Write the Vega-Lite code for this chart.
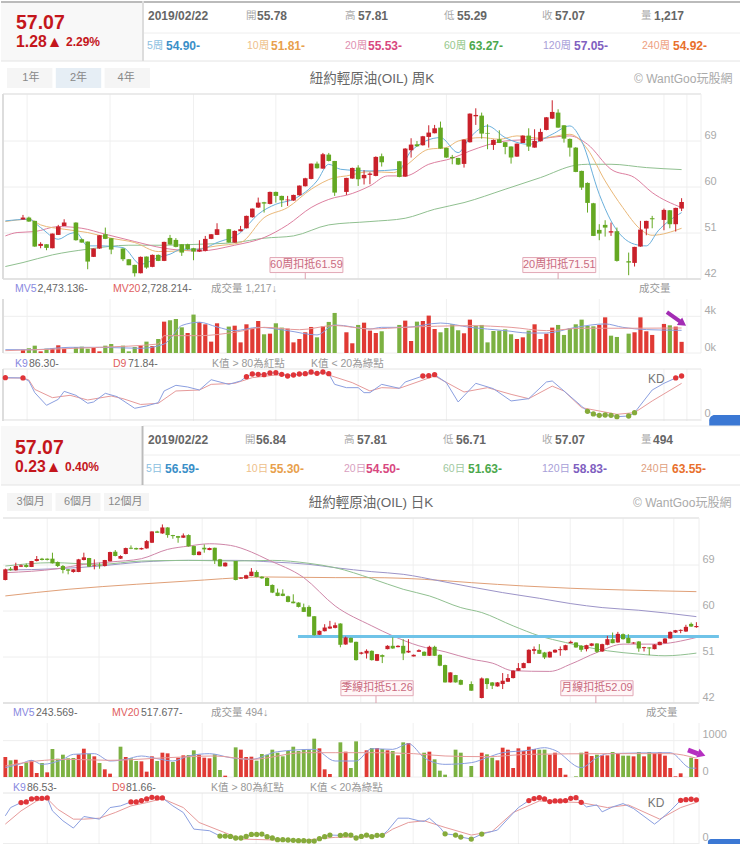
{"$schema":"https://vega.github.io/schema/vega-lite/v6.json","padding":0,"spacing":0,"bounds":"flush","background":"white","resolve":{"scale":{"color":"independent","size":"independent"}},
"config":{"font":"Liberation Sans, Noto Sans CJK TC","view":{"stroke":null},"axisX":{"disable":true},"axis":{"domain":false,"ticks":false,"grid":false,"labelColor":"#aaa","labelFontSize":11,"titleColor":"transparent"},"legend":{"disable":true}},
"datasets":{
"wHead":[{"cell":0,"row":0,"label":"","value":"2019/02/22","s":"o"},{"cell":1,"row":0,"label":"開","value":"55.78","s":"o"},{"cell":2,"row":0,"label":"高","value":"57.81","s":"o"},{"cell":3,"row":0,"label":"低","value":"55.29","s":"o"},{"cell":4,"row":0,"label":"收","value":"57.07","s":"o"},{"cell":5,"row":0,"label":"量","value":"1,217","s":"o"},{"cell":6,"row":1,"label":"5周","value":"54.90-","s":"5"},{"cell":7,"row":1,"label":"10周","value":"51.81-","s":"10"},{"cell":8,"row":1,"label":"20周","value":"55.53-","s":"20"},{"cell":9,"row":1,"label":"60周","value":"63.27-","s":"60"},{"cell":10,"row":1,"label":"120周","value":"57.05-","s":"120"},{"cell":11,"row":1,"label":"240周","value":"54.92-","s":"240"}],
"dHead":[{"cell":0,"row":0,"label":"","value":"2019/02/22","s":"o"},{"cell":1,"row":0,"label":"開","value":"56.84","s":"o"},{"cell":2,"row":0,"label":"高","value":"57.81","s":"o"},{"cell":3,"row":0,"label":"低","value":"56.71","s":"o"},{"cell":4,"row":0,"label":"收","value":"57.07","s":"o"},{"cell":5,"row":0,"label":"量","value":"494","s":"o"},{"cell":6,"row":1,"label":"5日","value":"56.59-","s":"5"},{"cell":7,"row":1,"label":"10日","value":"55.30-","s":"10"},{"cell":8,"row":1,"label":"20日","value":"54.50-","s":"20"},{"cell":9,"row":1,"label":"60日","value":"51.63-","s":"60"},{"cell":10,"row":1,"label":"120日","value":"58.83-","s":"120"},{"cell":11,"row":1,"label":"240日","value":"63.55-","s":"240"}],
"wC":[{"i":0,"o":53.63,"h":54.54,"l":53.63,"c":54.02},{"i":1,"o":54.02,"h":54.2,"l":53.2,"c":53.24},{"i":2,"o":53.37,"h":53.4,"l":48.3,"c":48.35},{"i":3,"o":48.48,"h":49.2,"l":48.02,"c":48.87},{"i":4,"o":48.8,"h":48.8,"l":47.63,"c":48.09},{"i":5,"o":48.02,"h":50.89,"l":48,"c":50.89},{"i":6,"o":50.63,"h":52.59,"l":50.63,"c":52.26},{"i":7,"o":52.39,"h":53.69,"l":52.39,"c":53.04},{"i":9,"o":53.04,"h":53.1,"l":49.5,"c":49.59},{"i":10,"o":49.78,"h":49.9,"l":49.1,"c":49.13},{"i":11,"o":49.33,"h":49.33,"l":43.91,"c":45.41},{"i":12,"o":46.33,"h":47.96,"l":46.3,"c":47.96},{"i":13,"o":47.96,"h":50.6,"l":47.9,"c":50.56},{"i":14,"o":50.76,"h":52.06,"l":49.8,"c":49.85},{"i":15,"o":49.98,"h":50,"l":46.85,"c":47.76},{"i":17,"o":47.96,"h":48,"l":45.5,"c":45.87},{"i":18,"o":45.87,"h":45.9,"l":44.7,"c":44.7},{"i":19,"o":44.76,"h":44.8,"l":42.48,"c":43.13},{"i":20,"o":43.13,"h":46.4,"l":43.1,"c":46.33},{"i":21,"o":46.39,"h":46.4,"l":44,"c":44.24},{"i":22,"o":44.37,"h":46.8,"l":44.3,"c":46.72},{"i":23,"o":46.72,"h":46.8,"l":45.5,"c":45.54},{"i":24,"o":45.54,"h":49.3,"l":45.5,"c":49.26},{"i":25,"o":50.04,"h":50.63,"l":48.7,"c":48.74},{"i":26,"o":49.65,"h":50,"l":48.2,"c":48.28},{"i":27,"o":48.8,"h":48.8,"l":46.52,"c":47.17},{"i":28,"o":48.8,"h":48.9,"l":47.7,"c":47.83},{"i":29,"o":48.02,"h":48.1,"l":45.67,"c":47.37},{"i":30,"o":47.37,"h":49.59,"l":47.3,"c":47.76},{"i":31,"o":47.5,"h":50.43,"l":47.4,"c":49.85},{"i":32,"o":49.85,"h":50.8,"l":49.8,"c":50.76},{"i":33,"o":50.63,"h":52.91,"l":50.6,"c":51.74},{"i":35,"o":51.74,"h":51.8,"l":49.1,"c":49.13},{"i":36,"o":49.13,"h":51.5,"l":49.1,"c":51.41},{"i":37,"o":51.35,"h":52.39,"l":51.3,"c":51.74},{"i":38,"o":51.93,"h":54.4,"l":51.9,"c":54.35},{"i":39,"o":54.09,"h":55.8,"l":54,"c":55.78},{"i":40,"o":55.98,"h":57.93,"l":55.9,"c":56.95},{"i":41,"o":57.02,"h":57.1,"l":55,"c":56.76},{"i":42,"o":56.69,"h":59.1,"l":56.6,"c":59.04},{"i":43,"o":59.04,"h":59.1,"l":56.95,"c":58.26},{"i":44,"o":58.26,"h":58.3,"l":56.1,"c":57.41},{"i":45,"o":57.41,"h":58.26,"l":56.3,"c":57.54},{"i":46,"o":57.35,"h":58.5,"l":57.3,"c":58.45},{"i":47,"o":58.39,"h":60.3,"l":58.3,"c":60.28},{"i":48,"o":60.15,"h":61.8,"l":60.1,"c":61.71},{"i":49,"o":61.58,"h":64.6,"l":61.5,"c":64.58},{"i":50,"o":64.58,"h":64.97,"l":63.6,"c":63.67},{"i":51,"o":63.6,"h":66.67,"l":63.6,"c":66.41},{"i":52,"o":66.34,"h":66.67,"l":65,"c":65.1},{"i":53,"o":65.1,"h":65.1,"l":58.26,"c":58.91},{"i":55,"o":59.04,"h":61.8,"l":58.45,"c":61.78},{"i":56,"o":61.65,"h":63.8,"l":61.6,"c":63.73},{"i":57,"o":63.8,"h":64.26,"l":60.21,"c":61.52},{"i":58,"o":61.71,"h":63.28,"l":60.5,"c":62.37},{"i":59,"o":62.37,"h":62.9,"l":60.54,"c":62.63},{"i":60,"o":62.17,"h":66,"l":62.1,"c":65.89},{"i":61,"o":66.02,"h":66.54,"l":64,"c":64.84},{"i":64,"o":65.04,"h":65.1,"l":61.9,"c":61.97},{"i":65,"o":62.04,"h":67.6,"l":62,"c":67.52},{"i":66,"o":67.19,"h":69.54,"l":65.76,"c":68.3},{"i":67,"o":68.36,"h":69,"l":67.9,"c":67.97},{"i":68,"o":68.17,"h":70,"l":68.1,"c":69.93},{"i":69,"o":69.8,"h":72.08,"l":67.71,"c":70.65},{"i":70,"o":70.52,"h":72.15,"l":70.5,"c":71.49},{"i":71,"o":71.62,"h":72.8,"l":67.5,"c":67.52},{"i":72,"o":67.65,"h":67.7,"l":65.7,"c":65.76},{"i":73,"o":65.89,"h":66.28,"l":64.45,"c":65.63},{"i":74,"o":65.69,"h":65.7,"l":64.3,"c":64.39},{"i":75,"o":64.52,"h":69.3,"l":63.8,"c":69.28},{"i":76,"o":68.76,"h":74.4,"l":68.7,"c":74.36},{"i":77,"o":73.84,"h":75.4,"l":72.15,"c":74.1},{"i":78,"o":73.97,"h":74.56,"l":69.47,"c":70.45},{"i":79,"o":70.58,"h":72.28,"l":67.39,"c":70.45},{"i":80,"o":68.23,"h":69.3,"l":67.26,"c":69.21},{"i":81,"o":69.34,"h":71.1,"l":68.6,"c":68.62},{"i":82,"o":68.76,"h":68.8,"l":66.41,"c":67.84},{"i":83,"o":67.91,"h":67.95,"l":64.58,"c":65.76},{"i":84,"o":65.95,"h":68.5,"l":65.9,"c":68.49},{"i":85,"o":68.62,"h":70.1,"l":68.6,"c":70.06},{"i":86,"o":70.06,"h":71.49,"l":67.05,"c":67.91},{"i":87,"o":67.71,"h":71.3,"l":67.7,"c":69.02},{"i":88,"o":68.95,"h":71.43,"l":68.9,"c":70.78},{"i":89,"o":71.17,"h":73.7,"l":71.1,"c":73.64},{"i":90,"o":73.38,"h":76.97,"l":73.3,"c":74.69},{"i":91,"o":74.56,"h":75.21,"l":71.6,"c":71.62},{"i":92,"o":72.08,"h":72.1,"l":68.69,"c":69.47},{"i":93,"o":69.41,"h":69.5,"l":65.95,"c":67.71},{"i":94,"o":67.71,"h":67.8,"l":62.9,"c":62.95},{"i":95,"o":63.15,"h":63.2,"l":59.43,"c":59.89},{"i":96,"o":60.8,"h":60.9,"l":55,"c":56.89},{"i":97,"o":56.82,"h":56.9,"l":50.4,"c":50.43},{"i":98,"o":51.61,"h":52.72,"l":49.59,"c":50.89},{"i":99,"o":52.59,"h":53.5,"l":50.3,"c":52.06},{"i":100,"o":51.09,"h":53.04,"l":50.43,"c":51.35},{"i":101,"o":51.35,"h":52.06,"l":45.4,"c":45.54},{"i":103,"o":45.48,"h":47.17,"l":42.74,"c":45.22},{"i":104,"o":45.15,"h":48.3,"l":44.44,"c":48.28},{"i":105,"o":48.35,"h":53.37,"l":48.3,"c":51.67},{"i":106,"o":51.87,"h":53.4,"l":50.56,"c":53.37},{"i":107,"o":53.89,"h":54.35,"l":51.93,"c":53.69},{"i":109,"o":53.56,"h":55.78,"l":51.54,"c":55.52},{"i":110,"o":55.45,"h":55.5,"l":51.93,"c":52.72},{"i":111,"o":52.72,"h":55.95,"l":51.28,"c":55.91},{"i":112,"o":55.78,"h":57.81,"l":55.29,"c":57.07}],
"wM":[{"m":"MA60","i":-3,"v":44.44},{"m":"MA60","i":0,"v":45.22},{"m":"MA60","i":5,"v":46.72},{"m":"MA60","i":11,"v":47.83},{"m":"MA60","i":18,"v":48.61},{"m":"MA60","i":24,"v":48.61},{"m":"MA60","i":30,"v":48.8},{"m":"MA60","i":36,"v":49.13},{"m":"MA60","i":41,"v":49.98},{"m":"MA60","i":46,"v":50.43},{"m":"MA60","i":52,"v":52.59},{"m":"MA60","i":59,"v":53.24},{"m":"MA60","i":65,"v":53.89},{"m":"MA60","i":70,"v":55.65},{"m":"MA60","i":75,"v":56.95},{"m":"MA60","i":82,"v":59.56},{"m":"MA60","i":88,"v":61.84},{"m":"MA60","i":94,"v":64.26},{"m":"MA60","i":96,"v":64.45},{"m":"MA60","i":100,"v":64.45},{"m":"MA60","i":106,"v":63.8},{"m":"MA60","i":112,"v":63.41},
{"m":"MA20","i":-3,"v":50.43},{"m":"MA20","i":-1,"v":51.09},{"m":"MA20","i":2,"v":51.28},{"m":"MA20","i":6,"v":52.26},{"m":"MA20","i":10,"v":51.93},{"m":"MA20","i":14,"v":50.76},{"m":"MA20","i":19,"v":49.33},{"m":"MA20","i":24,"v":48.02},{"m":"MA20","i":30,"v":47.48},{"m":"MA20","i":36,"v":48.61},{"m":"MA20","i":41,"v":50.11},{"m":"MA20","i":45,"v":52.59},{"m":"MA20","i":49,"v":55.98},{"m":"MA20","i":53,"v":57.93},{"m":"MA20","i":55,"v":58.39},{"m":"MA20","i":59,"v":60.21},{"m":"MA20","i":62,"v":62.17},{"m":"MA20","i":65,"v":62.17},{"m":"MA20","i":69,"v":64.45},{"m":"MA20","i":73,"v":65.63},{"m":"MA20","i":76,"v":67.05},{"m":"MA20","i":82,"v":69},{"m":"MA20","i":87,"v":69.34},{"m":"MA20","i":93,"v":70},{"m":"MA20","i":96,"v":68.36},{"m":"MA20","i":100,"v":63.47},{"m":"MA20","i":104,"v":61.84},{"m":"MA20","i":107,"v":58.91},{"m":"MA20","i":112,"v":55.98},
{"m":"MA10","i":-3,"v":53.24},{"m":"MA10","i":1,"v":53.69},{"m":"MA10","i":3,"v":52.59},{"m":"MA10","i":7,"v":51.74},{"m":"MA10","i":11,"v":51.09},{"m":"MA10","i":15,"v":49.98},{"m":"MA10","i":19,"v":49.13},{"m":"MA10","i":23,"v":47.37},{"m":"MA10","i":28,"v":47.63},{"m":"MA10","i":33,"v":48.48},{"m":"MA10","i":37,"v":49.13},{"m":"MA10","i":41,"v":54},{"m":"MA10","i":45,"v":55.98},{"m":"MA10","i":49,"v":59.56},{"m":"MA10","i":53,"v":61.84},{"m":"MA10","i":55,"v":62.17},{"m":"MA10","i":59,"v":63.02},{"m":"MA10","i":63,"v":62.82},{"m":"MA10","i":65,"v":64.13},{"m":"MA10","i":69,"v":67.39},{"m":"MA10","i":72,"v":67.71},{"m":"MA10","i":74,"v":69},{"m":"MA10","i":78,"v":69.67},{"m":"MA10","i":81,"v":69.34},{"m":"MA10","i":84,"v":70},{"m":"MA10","i":88,"v":69.54},{"m":"MA10","i":93,"v":70.32},{"m":"MA10","i":96,"v":67.39},{"m":"MA10","i":99,"v":61.19},{"m":"MA10","i":102,"v":55.98},{"m":"MA10","i":105,"v":51.74},{"m":"MA10","i":107,"v":50.56},{"m":"MA10","i":112,"v":51.93},
{"m":"MA5","i":-3,"v":53.37},{"m":"MA5","i":1,"v":53.69},{"m":"MA5","i":3,"v":52.06},{"m":"MA5","i":6,"v":49.78},{"m":"MA5","i":8,"v":50.89},{"m":"MA5","i":9,"v":51.09},{"m":"MA5","i":11,"v":48.48},{"m":"MA5","i":13,"v":48.48},{"m":"MA5","i":17,"v":48.15},{"m":"MA5","i":20,"v":44.89},{"m":"MA5","i":23,"v":46.2},{"m":"MA5","i":25,"v":46.85},{"m":"MA5","i":27,"v":47.83},{"m":"MA5","i":30,"v":47.83},{"m":"MA5","i":33,"v":49.13},{"m":"MA5","i":37,"v":51.09},{"m":"MA5","i":40,"v":54.67},{"m":"MA5","i":43,"v":56.63},{"m":"MA5","i":46,"v":57.61},{"m":"MA5","i":50,"v":61.19},{"m":"MA5","i":52,"v":64.45},{"m":"MA5","i":54,"v":63.47},{"m":"MA5","i":59,"v":63.15},{"m":"MA5","i":64,"v":63.47},{"m":"MA5","i":66,"v":67.06},{"m":"MA5","i":71,"v":69.67},{"m":"MA5","i":74,"v":66.73},{"m":"MA5","i":76,"v":69.67},{"m":"MA5","i":79,"v":71.95},{"m":"MA5","i":82,"v":69.67},{"m":"MA5","i":86,"v":68.36},{"m":"MA5","i":90,"v":70.32},{"m":"MA5","i":93,"v":71.95},{"m":"MA5","i":95,"v":69},{"m":"MA5","i":98,"v":58.58},{"m":"MA5","i":100,"v":53.37},{"m":"MA5","i":104,"v":48.8},{"m":"MA5","i":106,"v":48.48},{"m":"MA5","i":108,"v":51.41},{"m":"MA5","i":112,"v":55}],
"wV":[{"i":0,"v":364,"d":"r"},{"i":1,"v":510,"d":"g"},{"i":2,"v":800,"d":"g"},{"i":3,"v":180,"d":"r"},{"i":4,"v":470,"d":"g"},{"i":5,"v":510,"d":"r"},{"i":6,"v":840,"d":"r"},{"i":7,"v":470,"d":"r"},{"i":9,"v":655,"d":"g"},{"i":10,"v":690,"d":"g"},{"i":11,"v":470,"d":"g"},{"i":12,"v":580,"d":"r"},{"i":13,"v":180,"d":"r"},{"i":14,"v":800,"d":"g"},{"i":15,"v":980,"d":"g"},{"i":17,"v":800,"d":"g"},{"i":18,"v":180,"d":"g"},{"i":19,"v":655,"d":"g"},{"i":20,"v":760,"d":"r"},{"i":21,"v":1240,"d":"g"},{"i":22,"v":760,"d":"r"},{"i":23,"v":1530,"d":"g"},{"i":24,"v":3420,"d":"r"},{"i":25,"v":3570,"d":"g"},{"i":26,"v":3710,"d":"g"},{"i":27,"v":2800,"d":"g"},{"i":28,"v":2180,"d":"r"},{"i":29,"v":4190,"d":"g"},{"i":30,"v":3390,"d":"r"},{"i":31,"v":3130,"d":"r"},{"i":32,"v":1240,"d":"r"},{"i":33,"v":3240,"d":"r"},{"i":35,"v":2880,"d":"g"},{"i":36,"v":2980,"d":"r"},{"i":37,"v":1160,"d":"r"},{"i":38,"v":3130,"d":"r"},{"i":39,"v":2690,"d":"r"},{"i":40,"v":3490,"d":"r"},{"i":41,"v":2040,"d":"g"},{"i":42,"v":2110,"d":"r"},{"i":43,"v":3240,"d":"g"},{"i":44,"v":2770,"d":"g"},{"i":45,"v":2660,"d":"r"},{"i":46,"v":1160,"d":"r"},{"i":47,"v":1530,"d":"r"},{"i":48,"v":2260,"d":"r"},{"i":49,"v":2840,"d":"r"},{"i":50,"v":1710,"d":"g"},{"i":51,"v":2910,"d":"r"},{"i":52,"v":3390,"d":"g"},{"i":53,"v":4370,"d":"g"},{"i":55,"v":2260,"d":"r"},{"i":56,"v":1060,"d":"r"},{"i":57,"v":3060,"d":"g"},{"i":58,"v":3310,"d":"r"},{"i":59,"v":2440,"d":"r"},{"i":60,"v":2180,"d":"r"},{"i":61,"v":2370,"d":"g"},{"i":64,"v":3060,"d":"g"},{"i":65,"v":3530,"d":"r"},{"i":66,"v":1310,"d":"r"},{"i":67,"v":3420,"d":"g"},{"i":68,"v":3490,"d":"r"},{"i":69,"v":4080,"d":"r"},{"i":70,"v":2620,"d":"r"},{"i":71,"v":2260,"d":"g"},{"i":72,"v":2730,"d":"g"},{"i":73,"v":3130,"d":"g"},{"i":74,"v":2480,"d":"g"},{"i":75,"v":2150,"d":"r"},{"i":76,"v":3640,"d":"r"},{"i":77,"v":2980,"d":"g"},{"i":78,"v":3060,"d":"g"},{"i":79,"v":1160,"d":"g"},{"i":80,"v":2400,"d":"g"},{"i":81,"v":2440,"d":"g"},{"i":82,"v":2580,"d":"g"},{"i":83,"v":2040,"d":"g"},{"i":84,"v":1530,"d":"r"},{"i":85,"v":1710,"d":"r"},{"i":86,"v":2440,"d":"g"},{"i":87,"v":3130,"d":"r"},{"i":88,"v":1530,"d":"r"},{"i":89,"v":2110,"d":"r"},{"i":90,"v":2770,"d":"r"},{"i":91,"v":3060,"d":"g"},{"i":92,"v":1970,"d":"g"},{"i":93,"v":2690,"d":"g"},{"i":94,"v":3130,"d":"g"},{"i":95,"v":3640,"d":"g"},{"i":96,"v":2950,"d":"g"},{"i":97,"v":2910,"d":"g"},{"i":98,"v":3060,"d":"r"},{"i":99,"v":3890,"d":"r"},{"i":100,"v":1890,"d":"g"},{"i":101,"v":1750,"d":"g"},{"i":103,"v":2110,"d":"g"},{"i":104,"v":2260,"d":"r"},{"i":105,"v":3890,"d":"r"},{"i":106,"v":2370,"d":"r"},{"i":107,"v":1970,"d":"r"},{"i":109,"v":3170,"d":"r"},{"i":110,"v":3020,"d":"g"},{"i":111,"v":2880,"d":"r"},{"i":112,"v":1217,"d":"r"}],
"wMV":[{"m":"MV20","i":-3,"v":255},{"m":"MV20","i":13,"v":620},{"m":"MV20","i":23,"v":980},{"m":"MV20","i":24,"v":1890},{"m":"MV20","i":30,"v":1890},{"m":"MV20","i":36,"v":2260},{"m":"MV20","i":41,"v":2800},{"m":"MV20","i":47,"v":2540},{"m":"MV20","i":53,"v":3000},{"m":"MV20","i":59,"v":2620},{"m":"MV20","i":65,"v":2800},{"m":"MV20","i":76,"v":2980},{"m":"MV20","i":83,"v":2800},{"m":"MV20","i":89,"v":2440},{"m":"MV20","i":95,"v":2700},{"m":"MV20","i":103,"v":2700},{"m":"MV20","i":112,"v":2728},
{"m":"MV5","i":-3,"v":364},{"m":"MV5","i":2,"v":364},{"m":"MV5","i":8,"v":620},{"m":"MV5","i":13,"v":620},{"m":"MV5","i":20,"v":510},{"m":"MV5","i":24,"v":980},{"m":"MV5","i":25,"v":1530},{"m":"MV5","i":27,"v":3000},{"m":"MV5","i":30,"v":3350},{"m":"MV5","i":33,"v":2840},{"m":"MV5","i":36,"v":2440},{"m":"MV5","i":40,"v":2800},{"m":"MV5","i":45,"v":2440},{"m":"MV5","i":50,"v":1970},{"m":"MV5","i":53,"v":3060},{"m":"MV5","i":59,"v":2620},{"m":"MV5","i":61,"v":2800},{"m":"MV5","i":65,"v":2800},{"m":"MV5","i":71,"v":3270},{"m":"MV5","i":76,"v":2800},{"m":"MV5","i":82,"v":2440},{"m":"MV5","i":86,"v":2180},{"m":"MV5","i":89,"v":2180},{"m":"MV5","i":94,"v":2800},{"m":"MV5","i":99,"v":3170},{"m":"MV5","i":102,"v":2800},{"m":"MV5","i":106,"v":2550},{"m":"MV5","i":112,"v":2473}],
"wK":[{"i":-3,"k":83},{"i":0,"k":82.4},{"i":1,"k":76.5},{"i":2,"k":53.6},{"i":4,"k":28.8},{"i":6,"k":40.5},{"i":7,"k":56.2},{"i":9,"k":48.4},{"i":11,"k":32.7},{"i":12,"k":35.3},{"i":14,"k":52.3},{"i":16,"k":45.8},{"i":19,"k":22.9},{"i":21,"k":27.5},{"i":23,"k":34},{"i":24,"k":56.9},{"i":26,"k":68},{"i":28,"k":64.7},{"i":30,"k":58.8},{"i":32,"k":79},{"i":35,"k":69.9},{"i":37,"k":76.5},{"i":38,"k":85},{"i":39,"k":90.2},{"i":40,"k":89.5},{"i":41,"k":88.9},{"i":42,"k":92.2},{"i":43,"k":92.8},{"i":44,"k":89.5},{"i":45,"k":86.3},{"i":46,"k":88.2},{"i":47,"k":90.2},{"i":48,"k":90.8},{"i":49,"k":94.1},{"i":50,"k":91.5},{"i":51,"k":94.1},{"i":52,"k":90.8},{"i":53,"k":69.9},{"i":55,"k":63.4},{"i":57,"k":63.4},{"i":58,"k":53.6},{"i":59,"k":53.6},{"i":61,"k":69.9},{"i":64,"k":62.1},{"i":65,"k":74.5},{"i":68,"k":86.3},{"i":69,"k":86.9},{"i":70,"k":88.9},{"i":72,"k":73.2},{"i":74,"k":35.3},{"i":77,"k":71.9},{"i":80,"k":61.4},{"i":83,"k":37.3},{"i":86,"k":41.8},{"i":89,"k":74.5},{"i":90,"k":76.5},{"i":92,"k":56.9},{"i":96,"k":17},{"i":97,"k":11.8},{"i":98,"k":9.2},{"i":99,"k":9.8},{"i":100,"k":9.2},{"i":101,"k":6.5},{"i":103,"k":7.8},{"i":104,"k":14.4},{"i":107,"k":58.8},{"i":109,"k":71.9},{"i":111,"k":82.4},{"i":112,"k":86.3}],
"wD":[{"i":-3,"k":82.4},{"i":0,"k":82.4},{"i":1,"k":78.4},{"i":2,"k":60},{"i":5,"k":43.8},{"i":8,"k":48.4},{"i":11,"k":39.2},{"i":15,"k":47},{"i":17,"k":41.8},{"i":20,"k":30.4},{"i":23,"k":32.7},{"i":26,"k":56.9},{"i":30,"k":58.8},{"i":32,"k":69.9},{"i":36,"k":71.9},{"i":39,"k":83},{"i":43,"k":88.2},{"i":46,"k":88.2},{"i":51,"k":92.2},{"i":52,"k":88.2},{"i":56,"k":73.2},{"i":59,"k":56.9},{"i":61,"k":63.4},{"i":64,"k":62.1},{"i":70,"k":86.3},{"i":75,"k":54.9},{"i":79,"k":63.4},{"i":83,"k":50.3},{"i":86,"k":41.8},{"i":90,"k":66.4},{"i":92,"k":56.9},{"i":95,"k":24.2},{"i":101,"k":11.1},{"i":104,"k":14.4},{"i":107,"k":37.3},{"i":112,"k":71.84}],
"dC":[{"i":0,"o":66.07,"h":68.3,"l":66,"c":68.15},{"i":1,"o":68.28,"h":68.6,"l":67.9,"c":67.96},{"i":2,"o":67.96,"h":69.45,"l":67.9,"c":68.8},{"i":3,"o":68.67,"h":69.1,"l":68.6,"c":68.93},{"i":4,"o":69,"h":69.3,"l":68.5,"c":68.61},{"i":5,"o":68.61,"h":69.8,"l":68.6,"c":69.78},{"i":6,"o":69.78,"h":70.76,"l":69.7,"c":70.17},{"i":7,"o":70.24,"h":70.4,"l":69.9,"c":69.98},{"i":8,"o":70.24,"h":70.3,"l":69.9,"c":70},{"i":9,"o":70.24,"h":71.41,"l":69.3,"c":69.33},{"i":10,"o":69.59,"h":69.7,"l":68.6,"c":68.8},{"i":11,"o":68.8,"h":69,"l":67.37,"c":68.02},{"i":12,"o":68.15,"h":68.2,"l":67.18,"c":67.89},{"i":13,"o":67.63,"h":68.2,"l":67.5,"c":68.15},{"i":14,"o":67.63,"h":70.2,"l":67.6,"c":70.11},{"i":15,"o":69.98,"h":71.41,"l":69.9,"c":70.5},{"i":16,"o":70.37,"h":70.4,"l":68.6,"c":68.67},{"i":17,"o":68.87,"h":70.11,"l":68.15,"c":69},{"i":18,"o":68.98,"h":69.46,"l":68.28,"c":68.87},{"i":19,"o":68.8,"h":70,"l":68.7,"c":69.98},{"i":20,"o":69.72,"h":71.6,"l":69.7,"c":71.54},{"i":21,"o":71.6,"h":71.93,"l":70.7,"c":70.76},{"i":22,"o":70.24,"h":70.9,"l":70.2,"c":70.76},{"i":23,"o":71.15,"h":72.4,"l":71.1,"c":72.32},{"i":24,"o":72.38,"h":72.84,"l":72.1,"c":72.19},{"i":25,"o":72.32,"h":72.4,"l":72,"c":72.06},{"i":26,"o":72.06,"h":72.4,"l":72,"c":72.32},{"i":27,"o":72.25,"h":73.9,"l":72.2,"c":73.68},{"i":28,"o":73.36,"h":75.6,"l":73.3,"c":75.57},{"i":29,"o":75.57,"h":75.7,"l":75.3,"c":75.31},{"i":30,"o":75.18,"h":76.94,"l":75.1,"c":76.35},{"i":31,"o":76.35,"h":76.4,"l":74.34,"c":74.86},{"i":32,"o":74.86,"h":74.9,"l":74.14,"c":74.66},{"i":33,"o":74.66,"h":74.7,"l":73.36,"c":74.34},{"i":34,"o":74.34,"h":75.18,"l":74.3,"c":74.79},{"i":35,"o":74.86,"h":75,"l":72.6,"c":72.64},{"i":36,"o":72.71,"h":72.8,"l":70.9,"c":70.95},{"i":37,"o":70.95,"h":71.7,"l":70.9,"c":71.6},{"i":38,"o":72.38,"h":73.03,"l":71.41,"c":72.06},{"i":39,"o":71.93,"h":72.4,"l":71.9,"c":72.32},{"i":40,"o":72.38,"h":72.4,"l":69.2,"c":69.91},{"i":41,"o":70.11,"h":70.2,"l":68.7,"c":68.74},{"i":42,"o":68.74,"h":69.5,"l":68.7,"c":69.46},{"i":44,"o":69.78,"h":69.8,"l":66,"c":66.07},{"i":45,"o":66.33,"h":66.6,"l":66.3,"c":66.53},{"i":46,"o":66.33,"h":67.1,"l":66.3,"c":67},{"i":47,"o":66.85,"h":68.4,"l":66.8,"c":67.7},{"i":48,"o":67.63,"h":67.96,"l":66.6,"c":66.66},{"i":49,"o":66.72,"h":66.8,"l":66.3,"c":66.4},{"i":50,"o":66.46,"h":66.6,"l":64.9,"c":64.9},{"i":51,"o":65.1,"h":65.2,"l":63.5,"c":63.6},{"i":52,"o":63.6,"h":64.38,"l":62.9,"c":62.95},{"i":53,"o":63.4,"h":64.25,"l":62.9,"c":62.95},{"i":54,"o":62.88,"h":63,"l":61.7,"c":61.78},{"i":55,"o":61.84,"h":63.27,"l":61.5,"c":61.52},{"i":56,"o":61.65,"h":61.7,"l":60.7,"c":60.8},{"i":57,"o":60.74,"h":61.45,"l":59.8,"c":59.83},{"i":58,"o":60.8,"h":61.1,"l":58.9,"c":58.92},{"i":59,"o":58.98,"h":59,"l":55.2,"c":55.27},{"i":60,"o":55.34,"h":56.2,"l":55.3,"c":56.12},{"i":61,"o":56.05,"h":57.42,"l":56,"c":56.77},{"i":62,"o":56.57,"h":58.07,"l":56.5,"c":56.96},{"i":63,"o":56.7,"h":57.75,"l":56.6,"c":57.22},{"i":64,"o":57.55,"h":57.6,"l":52.9,"c":53.39},{"i":65,"o":53.45,"h":55,"l":53.4,"c":54.82},{"i":66,"o":54.75,"h":54.8,"l":53.8,"c":53.84},{"i":67,"o":53.97,"h":54,"l":50.3,"c":50.39},{"i":68,"o":51.63,"h":52,"l":51.5,"c":51.89},{"i":69,"o":51.7,"h":52.5,"l":50.7,"c":52.21},{"i":70,"o":52.21,"h":52.3,"l":50.3,"c":50.39},{"i":71,"o":50.26,"h":51.6,"l":50.2,"c":51.56},{"i":72,"o":51.37,"h":51.5,"l":49.81,"c":51.04},{"i":73,"o":52.54,"h":53.3,"l":52.5,"c":53.19},{"i":74,"o":53.19,"h":54.82,"l":52.6,"c":52.67},{"i":75,"o":52.93,"h":53.3,"l":52.9,"c":53.19},{"i":76,"o":53.19,"h":54.49,"l":50.39,"c":51.69},{"i":77,"o":51.89,"h":54.49,"l":51.8,"c":52.21},{"i":78,"o":51.11,"h":51.5,"l":51.1,"c":51.43},{"i":79,"o":52.02,"h":52.5,"l":52,"c":52.34},{"i":80,"o":52.02,"h":52.1,"l":51.2,"c":51.24},{"i":81,"o":51.24,"h":53.2,"l":51.2,"c":52.99},{"i":82,"o":52.99,"h":53.2,"l":51.2,"c":51.24},{"i":83,"o":51.43,"h":51.5,"l":49.2,"c":49.29},{"i":84,"o":49.42,"h":49.5,"l":46,"c":46.03},{"i":85,"o":46.03,"h":48,"l":46,"c":47.99},{"i":86,"o":47.47,"h":47.5,"l":46,"c":46.03},{"i":87,"o":46.49,"h":46.6,"l":45.5,"c":45.58},{"i":89,"o":45.71,"h":46.23,"l":44.4,"c":44.41},{"i":91,"o":42.98,"h":47,"l":42.9,"c":46.81},{"i":92,"o":46.81,"h":46.9,"l":44.73,"c":45.71},{"i":93,"o":46.03,"h":46.1,"l":44.73,"c":45.38},{"i":94,"o":45.25,"h":46.1,"l":45.2,"c":46.03},{"i":95,"o":45.71,"h":47.86,"l":44.73,"c":46.36},{"i":96,"o":46.16,"h":47.66,"l":46.1,"c":46.88},{"i":97,"o":46.88,"h":48.4,"l":46.8,"c":48.31},{"i":98,"o":48.31,"h":49.81,"l":48.3,"c":48.83},{"i":99,"o":48.83,"h":49.9,"l":48.8,"c":49.81},{"i":100,"o":49.81,"h":52.5,"l":49.8,"c":52.41},{"i":101,"o":52.21,"h":53.06,"l":51.56,"c":52.54},{"i":102,"o":52.41,"h":53.52,"l":51.6,"c":51.63},{"i":103,"o":51.89,"h":52,"l":50.6,"c":50.91},{"i":104,"o":50.91,"h":52.1,"l":50.9,"c":52.02},{"i":105,"o":51.89,"h":52.5,"l":51.8,"c":52.41},{"i":106,"o":52.34,"h":53.06,"l":51.24,"c":52.54},{"i":107,"o":52.34,"h":53.4,"l":52.3,"c":53.32},{"i":108,"o":53.71,"h":54.2,"l":53.7,"c":53.97},{"i":109,"o":53.84,"h":53.9,"l":52.8,"c":52.87},{"i":110,"o":53.19,"h":53.3,"l":52.02,"c":52.41},{"i":111,"o":52.54,"h":53.4,"l":52.1,"c":53.32},{"i":112,"o":53.19,"h":53.7,"l":53.1,"c":53.65},{"i":113,"o":53.65,"h":53.7,"l":51.8,"c":52.02},{"i":114,"o":52.08,"h":53.6,"l":52,"c":53.52},{"i":115,"o":53.39,"h":55.14,"l":53.3,"c":54.49},{"i":116,"o":54.49,"h":55.79,"l":53.7,"c":53.71},{"i":117,"o":53.84,"h":55.92,"l":53.8,"c":55.53},{"i":118,"o":55.47,"h":55.6,"l":54.4,"c":54.49},{"i":119,"o":54.75,"h":55.47,"l":53.7,"c":53.71},{"i":120,"o":53.65,"h":53.9,"l":53.6,"c":53.84},{"i":121,"o":54.04,"h":54.1,"l":52.02,"c":52.67},{"i":122,"o":52.74,"h":53,"l":52.08,"c":52.93},{"i":123,"o":52.87,"h":52.9,"l":51.37,"c":52.67},{"i":124,"o":52.54,"h":53.5,"l":52.5,"c":53.45},{"i":125,"o":53.32,"h":54,"l":53.3,"c":53.97},{"i":126,"o":53.71,"h":54.7,"l":53.7,"c":54.62},{"i":127,"o":54.62,"h":56,"l":54.6,"c":55.92},{"i":128,"o":55.79,"h":56.3,"l":55.7,"c":56.25},{"i":129,"o":56.12,"h":56.4,"l":55.66,"c":56.31},{"i":130,"o":55.99,"h":57.3,"l":55.9,"c":56.9},{"i":131,"o":57.48,"h":57.75,"l":56.9,"c":56.96},{"i":132,"o":56.84,"h":57.81,"l":56.71,"c":57.07}],
"dM":[{"m":"MA240","i":0,"v":62.95},{"m":"MA240","i":12,"v":64.25},{"m":"MA240","i":25,"v":65.23},{"m":"MA240","i":38,"v":66.07},{"m":"MA240","i":45,"v":66.53},{"m":"MA240","i":50,"v":66.66},{"m":"MA240","i":63,"v":66.53},{"m":"MA240","i":70,"v":66.53},{"m":"MA240","i":80,"v":66.2},{"m":"MA240","i":89,"v":65.55},{"m":"MA240","i":99,"v":64.9},{"m":"MA240","i":108,"v":64.45},{"m":"MA240","i":118,"v":64.12},{"m":"MA240","i":132,"v":63.79},
{"m":"MA120","i":0,"v":68.02},{"m":"MA120","i":10,"v":68.28},{"m":"MA120","i":18,"v":68.8},{"m":"MA120","i":26,"v":69.59},{"m":"MA120","i":35,"v":69.91},{"m":"MA120","i":44,"v":69.91},{"m":"MA120","i":51,"v":69.59},{"m":"MA120","i":58,"v":69.13},{"m":"MA120","i":63,"v":68.48},{"m":"MA120","i":70,"v":67.7},{"m":"MA120","i":76,"v":67.18},{"m":"MA120","i":83,"v":65.88},{"m":"MA120","i":89,"v":64.7},{"m":"MA120","i":95,"v":63.6},{"m":"MA120","i":102,"v":62.49},{"m":"MA120","i":108,"v":61.45},{"m":"MA120","i":114,"v":60.67},{"m":"MA120","i":121,"v":60.15},{"m":"MA120","i":132,"v":58.9},
{"m":"MA60","i":0,"v":68.8},{"m":"MA60","i":9,"v":69.46},{"m":"MA60","i":18,"v":69.13},{"m":"MA60","i":26,"v":69.78},{"m":"MA60","i":35,"v":69.91},{"m":"MA60","i":44,"v":69.78},{"m":"MA60","i":51,"v":69.91},{"m":"MA60","i":58,"v":69.33},{"m":"MA60","i":63,"v":68.48},{"m":"MA60","i":70,"v":66.33},{"m":"MA60","i":76,"v":64.25},{"m":"MA60","i":81,"v":62.95},{"m":"MA60","i":87,"v":60.67},{"m":"MA60","i":91,"v":59.7},{"m":"MA60","i":97,"v":57.09},{"m":"MA60","i":102,"v":55.14},{"m":"MA60","i":107,"v":53.84},{"m":"MA60","i":115,"v":52.22},{"m":"MA60","i":121,"v":51.57},{"m":"MA60","i":126,"v":51.24},{"m":"MA60","i":132,"v":51.76},
{"m":"MA20","i":0,"v":67.5},{"m":"MA20","i":10,"v":68.28},{"m":"MA20","i":15,"v":69.13},{"m":"MA20","i":20,"v":69.59},{"m":"MA20","i":26,"v":70.24},{"m":"MA20","i":31,"v":72.06},{"m":"MA20","i":35,"v":72.71},{"m":"MA20","i":39,"v":73.16},{"m":"MA20","i":43,"v":72.84},{"m":"MA20","i":47,"v":71.54},{"m":"MA20","i":50,"v":70.11},{"m":"MA20","i":57,"v":66.53},{"m":"MA20","i":63,"v":60.99},{"m":"MA20","i":70,"v":57.09},{"m":"MA20","i":74,"v":55.14},{"m":"MA20","i":79,"v":53.19},{"m":"MA20","i":84,"v":52.02},{"m":"MA20","i":89,"v":50.59},{"m":"MA20","i":93,"v":49.81},{"m":"MA20","i":97,"v":48.31},{"m":"MA20","i":104,"v":48.18},{"m":"MA20","i":108,"v":49.61},{"m":"MA20","i":113,"v":51.89},{"m":"MA20","i":118,"v":53.52},{"m":"MA20","i":124,"v":53.52},{"m":"MA20","i":132,"v":54.82}],
"dV":[{"i":0,"v":550,"d":"r"},{"i":1,"v":459,"d":"g"},{"i":2,"v":477,"d":"r"},{"i":3,"v":303,"d":"r"},{"i":4,"v":403,"d":"g"},{"i":5,"v":459,"d":"r"},{"i":6,"v":110,"d":"r"},{"i":7,"v":385,"d":"g"},{"i":8,"v":128,"d":"r"},{"i":9,"v":770,"d":"g"},{"i":10,"v":504,"d":"g"},{"i":11,"v":614,"d":"g"},{"i":12,"v":514,"d":"g"},{"i":13,"v":523,"d":"g"},{"i":14,"v":624,"d":"r"},{"i":15,"v":779,"d":"r"},{"i":16,"v":642,"d":"g"},{"i":17,"v":569,"d":"r"},{"i":18,"v":385,"d":"g"},{"i":19,"v":211,"d":"r"},{"i":20,"v":92,"d":"r"},{"i":22,"v":834,"d":"g"},{"i":23,"v":550,"d":"r"},{"i":24,"v":514,"d":"g"},{"i":25,"v":440,"d":"g"},{"i":26,"v":431,"d":"r"},{"i":27,"v":147,"d":"r"},{"i":28,"v":569,"d":"r"},{"i":29,"v":440,"d":"g"},{"i":30,"v":669,"d":"r"},{"i":31,"v":651,"d":"r"},{"i":32,"v":413,"d":"g"},{"i":33,"v":532,"d":"r"},{"i":34,"v":596,"d":"r"},{"i":35,"v":605,"d":"g"},{"i":36,"v":734,"d":"g"},{"i":37,"v":614,"d":"r"},{"i":38,"v":532,"d":"r"},{"i":39,"v":514,"d":"r"},{"i":40,"v":624,"d":"g"},{"i":41,"v":193,"d":"g"},{"i":42,"v":37,"d":"r"},{"i":44,"v":816,"d":"g"},{"i":45,"v":752,"d":"r"},{"i":46,"v":550,"d":"r"},{"i":47,"v":559,"d":"r"},{"i":48,"v":449,"d":"g"},{"i":49,"v":633,"d":"g"},{"i":50,"v":614,"d":"g"},{"i":51,"v":752,"d":"g"},{"i":52,"v":669,"d":"g"},{"i":53,"v":569,"d":"g"},{"i":54,"v":715,"d":"g"},{"i":55,"v":834,"d":"g"},{"i":56,"v":715,"d":"g"},{"i":57,"v":761,"d":"g"},{"i":58,"v":752,"d":"g"},{"i":59,"v":1055,"d":"g"},{"i":60,"v":789,"d":"r"},{"i":61,"v":211,"d":"r"},{"i":62,"v":83,"d":"r"},{"i":64,"v":954,"d":"g"},{"i":65,"v":697,"d":"r"},{"i":66,"v":248,"d":"g"},{"i":67,"v":981,"d":"g"},{"i":69,"v":734,"d":"r"},{"i":70,"v":798,"d":"g"},{"i":71,"v":798,"d":"r"},{"i":72,"v":770,"d":"g"},{"i":73,"v":734,"d":"r"},{"i":74,"v":715,"d":"g"},{"i":75,"v":596,"d":"r"},{"i":76,"v":954,"d":"g"},{"i":77,"v":935,"d":"r"},{"i":80,"v":669,"d":"g"},{"i":81,"v":697,"d":"r"},{"i":82,"v":486,"d":"g"},{"i":83,"v":174,"d":"g"},{"i":84,"v":64,"d":"g"},{"i":86,"v":752,"d":"g"},{"i":87,"v":669,"d":"g"},{"i":89,"v":303,"d":"g"},{"i":91,"v":669,"d":"r"},{"i":92,"v":624,"d":"g"},{"i":93,"v":532,"d":"g"},{"i":94,"v":459,"d":"r"},{"i":95,"v":807,"d":"r"},{"i":96,"v":752,"d":"r"},{"i":97,"v":248,"d":"r"},{"i":98,"v":789,"d":"r"},{"i":99,"v":715,"d":"r"},{"i":100,"v":834,"d":"r"},{"i":101,"v":770,"d":"r"},{"i":102,"v":752,"d":"g"},{"i":103,"v":752,"d":"g"},{"i":104,"v":614,"d":"r"},{"i":105,"v":669,"d":"r"},{"i":106,"v":248,"d":"r"},{"i":107,"v":64,"d":"r"},{"i":109,"v":18,"d":"g"},{"i":110,"v":669,"d":"g"},{"i":111,"v":697,"d":"r"},{"i":112,"v":578,"d":"r"},{"i":113,"v":614,"d":"g"},{"i":114,"v":596,"d":"r"},{"i":115,"v":596,"d":"r"},{"i":116,"v":688,"d":"g"},{"i":117,"v":642,"d":"r"},{"i":118,"v":587,"d":"g"},{"i":119,"v":587,"d":"g"},{"i":120,"v":569,"d":"r"},{"i":121,"v":688,"d":"g"},{"i":122,"v":569,"d":"r"},{"i":123,"v":688,"d":"g"},{"i":124,"v":660,"d":"r"},{"i":125,"v":679,"d":"r"},{"i":126,"v":587,"d":"r"},{"i":127,"v":248,"d":"r"},{"i":128,"v":18,"d":"r"},{"i":129,"v":101,"d":"r"},{"i":131,"v":532,"d":"g"},{"i":132,"v":494,"d":"r"}],
"dMV":[{"m":"MV20","i":0,"v":303},{"m":"MV20","i":6,"v":440},{"m":"MV20","i":12,"v":486},{"m":"MV20","i":20,"v":459},{"m":"MV20","i":31,"v":532},{"m":"MV20","i":40,"v":578},{"m":"MV20","i":47,"v":486},{"m":"MV20","i":57,"v":669},{"m":"MV20","i":63,"v":669},{"m":"MV20","i":70,"v":669},{"m":"MV20","i":78,"v":642},{"m":"MV20","i":84,"v":578},{"m":"MV20","i":92,"v":559},{"m":"MV20","i":100,"v":624},{"m":"MV20","i":115,"v":642},{"m":"MV20","i":127,"v":642},{"m":"MV20","i":132,"v":518},
{"m":"MV5","i":0,"v":257},{"m":"MV5","i":3,"v":367},{"m":"MV5","i":5,"v":459},{"m":"MV5","i":7,"v":348},{"m":"MV5","i":11,"v":486},{"m":"MV5","i":13,"v":624},{"m":"MV5","i":17,"v":642},{"m":"MV5","i":20,"v":440},{"m":"MV5","i":23,"v":486},{"m":"MV5","i":26,"v":578},{"m":"MV5","i":29,"v":504},{"m":"MV5","i":32,"v":440},{"m":"MV5","i":35,"v":578},{"m":"MV5","i":39,"v":642},{"m":"MV5","i":43,"v":532},{"m":"MV5","i":47,"v":486},{"m":"MV5","i":52,"v":697},{"m":"MV5","i":59,"v":761},{"m":"MV5","i":63,"v":440},{"m":"MV5","i":67,"v":440},{"m":"MV5","i":70,"v":779},{"m":"MV5","i":74,"v":761},{"m":"MV5","i":77,"v":917},{"m":"MV5","i":80,"v":532},{"m":"MV5","i":84,"v":348},{"m":"MV5","i":89,"v":394},{"m":"MV5","i":92,"v":532},{"m":"MV5","i":95,"v":669},{"m":"MV5","i":100,"v":734},{"m":"MV5","i":103,"v":807},{"m":"MV5","i":105,"v":734},{"m":"MV5","i":110,"v":257},{"m":"MV5","i":113,"v":532},{"m":"MV5","i":115,"v":642},{"m":"MV5","i":127,"v":669},{"m":"MV5","i":131,"v":243},{"m":"MV5","i":132,"v":243}],
"dK":[{"i":0,"k":55.2},{"i":1,"k":71.4},{"i":3,"k":81.2},{"i":4,"k":82.5},{"i":5,"k":88.3},{"i":6,"k":89.6},{"i":7,"k":89.6},{"i":8,"k":90.3},{"i":9,"k":64.9},{"i":11,"k":45.5},{"i":13,"k":31.2},{"i":15,"k":53.9},{"i":18,"k":48.7},{"i":20,"k":71.4},{"i":22,"k":74.7},{"i":24,"k":82.5},{"i":25,"k":82.5},{"i":26,"k":85.1},{"i":27,"k":88.3},{"i":28,"k":91.6},{"i":29,"k":90.3},{"i":30,"k":90.3},{"i":32,"k":74.7},{"i":34,"k":61.7},{"i":36,"k":29.2},{"i":39,"k":26},{"i":41,"k":15.6},{"i":42,"k":15.6},{"i":43,"k":14.9},{"i":44,"k":11.7},{"i":45,"k":11.7},{"i":46,"k":14.9},{"i":47,"k":18.8},{"i":48,"k":18.8},{"i":49,"k":19.5},{"i":50,"k":14.3},{"i":51,"k":11.7},{"i":52,"k":8.4},{"i":53,"k":8.4},{"i":54,"k":7.8},{"i":55,"k":7.1},{"i":56,"k":6.5},{"i":57,"k":6.5},{"i":58,"k":5.8},{"i":59,"k":5.8},{"i":60,"k":10.4},{"i":61,"k":14.3},{"i":62,"k":17.5},{"i":64,"k":16.9},{"i":65,"k":18.2},{"i":66,"k":17.5},{"i":67,"k":11.7},{"i":68,"k":14.9},{"i":69,"k":17.5},{"i":70,"k":14.3},{"i":71,"k":16.9},{"i":72,"k":16.9},{"i":73,"k":26},{"i":75,"k":50.6},{"i":77,"k":50.6},{"i":79,"k":45.5},{"i":80,"k":44.2},{"i":81,"k":50.6},{"i":83,"k":32.5},{"i":84,"k":19.9},{"i":86,"k":17.5},{"i":87,"k":13.6},{"i":89,"k":9.7},{"i":91,"k":19.5},{"i":94,"k":27.3},{"i":98,"k":71.4},{"i":100,"k":85.1},{"i":101,"k":89},{"i":102,"k":90.9},{"i":103,"k":88.3},{"i":104,"k":83.1},{"i":105,"k":84.4},{"i":106,"k":84.4},{"i":107,"k":85.1},{"i":108,"k":89.6},{"i":109,"k":90.9},{"i":110,"k":81.8},{"i":111,"k":72.7},{"i":113,"k":76.6},{"i":114,"k":63},{"i":116,"k":72.7},{"i":118,"k":79.2},{"i":120,"k":69.5},{"i":124,"k":39},{"i":125,"k":46.8},{"i":127,"k":64.9},{"i":129,"k":85.7},{"i":130,"k":87},{"i":131,"k":87.7},{"i":132,"k":86.53}],
"dD":[{"i":0,"k":39},{"i":3,"k":64.9},{"i":6,"k":84.4},{"i":8,"k":89},{"i":10,"k":68.2},{"i":13,"k":48.7},{"i":15,"k":48.7},{"i":18,"k":50.6},{"i":21,"k":61.7},{"i":24,"k":74.7},{"i":27,"k":81.2},{"i":30,"k":89},{"i":34,"k":71.4},{"i":37,"k":42.2},{"i":41,"k":26},{"i":45,"k":9.7},{"i":56,"k":6.5},{"i":63,"k":13},{"i":70,"k":14.3},{"i":72,"k":16.2},{"i":74,"k":29.2},{"i":77,"k":42.2},{"i":80,"k":45.5},{"i":84,"k":32.5},{"i":89,"k":17.5},{"i":93,"k":24.7},{"i":97,"k":61.7},{"i":102,"k":84.4},{"i":110,"k":81.2},{"i":115,"k":71.4},{"i":119,"k":76.6},{"i":125,"k":48.7},{"i":129,"k":71.4},{"i":132,"k":81.66}],
"wGrid":[{"i":0.7},{"i":14.8},{"i":29},{"i":43},{"i":57},{"i":72},{"i":98},{"i":109},{"i":112.9}],
"dGrid":[{"i":8},{"i":17.9},{"i":27.8},{"i":37.6},{"i":47.9},{"i":57.8},{"i":67.9},{"i":77.9},{"i":89.3},{"i":98},{"i":107.9},{"i":118},{"i":127.7}],
"priceLines":[{"p":69},{"p":60},{"p":51},{"p":42}]
},
"vconcat":[
{"width":740,"height":60,"data":{"name":"wHead"},"resolve":{"scale":{"x":"independent","y":"independent","color":"independent","size":"independent"}},"layer":[
{"data":{"values":[{"box":"quote"}]},"mark":{"type":"rect","fill":"#f8f8f8"},"encoding":{"x":{"datum":0,"scale":{"domain":[0,740],"range":[0,740]}},"x2":{"datum":141},"y":{"datum":2,"axis":null,"scale":{"domain":[0,60],"range":[0,60]}},"y2":{"datum":60}}},
{"data":{"values":[{"box":"top"}]},"mark":{"type":"rule","color":"#bbb","strokeWidth":2},"encoding":{"y":{"datum":1,"axis":null,"scale":{"domain":[0,60],"range":[0,60]}}}},
{"data":{"values":[{"box":"bottom"}]},"mark":{"type":"rule","color":"#e4e4e4"},"encoding":{"y":{"datum":60,"axis":null,"scale":{"domain":[0,60],"range":[0,60]}}}},
{"data":{"values":[{"box":"split"}]},"mark":{"type":"rule","color":"#ddd","strokeWidth":2},"encoding":{"x":{"datum":142,"scale":{"domain":[0,740],"range":[0,740]}}}},
{"data":{"values":[{"box":"row"}]},"mark":{"type":"rule","color":"#eee"},"encoding":{"x":{"datum":143,"scale":{"domain":[0,740],"range":[0,740]}},"x2":{"datum":740},"y":{"datum":32,"axis":null,"scale":{"domain":[0,60],"range":[0,60]}}}},
{"data":{"values":[{"n":0,"t":"57.07"},{"n":1,"t":"1.28▲"},{"n":2,"t":"2.29%"}]},"mark":{"type":"text","align":"left","baseline":"middle","fontWeight":"bold","color":"#c4161c"},"encoding":{"x":{"field":"n","type":"quantitative","scale":{"domain":[0,1,2],"range":[15,15,65]}},"y":{"field":"n","type":"quantitative","axis":null,"scale":{"domain":[0,1,2],"range":[22,41,41]}},"size":{"field":"n","type":"ordinal","scale":{"domain":[0,1,2],"range":[19.5,12,12.5]}},"text":{"field":"t"}}},
{"transform":[{"filter":"datum.label!=''"}],"mark":{"type":"text","align":"left","baseline":"middle","fontSize":10.5},"encoding":{"x":{"field":"cell","type":"quantitative","scale":{"domain":[0,1,2,3,4,5,6,7,8,9,10,11],"range":[147,245,344,443,541,640,146,246,344,443,542,641]}},"y":{"field":"row","type":"quantitative","axis":null,"scale":{"domain":[0,1],"range":[15,45]}},"color":{"field":"s","type":"nominal","scale":{"domain":["o","5","10","20","60","120","240"],"range":["#aaa","#8cc0e0","#eec08a","#e090b0","#96c88c","#a8a0d8","#eea080"]}},"text":{"field":"label"}}},
{"mark":{"type":"text","align":"left","baseline":"middle","fontSize":12,"fontWeight":"bold"},"encoding":{"x":{"field":"cell","type":"quantitative","scale":{"domain":[0,1,2,3,4,5,6,7,8,9,10,11],"range":[147,256,357,456,554,653,165,270,367,468,573,672]}},"y":{"field":"row","type":"quantitative","axis":null,"scale":{"domain":[0,1],"range":[15,45]}},"color":{"field":"s","type":"nominal","scale":{"domain":["o","5","10","20","60","120","240"],"range":["#666","#3a8fc8","#e8a04c","#d8487f","#4ca84c","#8060c0","#e8702c"]}},"text":{"field":"value"}}}
]},
{"width":740,"height":33,"resolve":{"scale":{"x":"independent","y":"independent"}},"layer":[
{"data":{"values":[{"b":"1年","on":false},{"b":"2年","on":true},{"b":"4年","on":false}]},"mark":{"type":"rect"},"encoding":{"x":{"field":"b","type":"nominal","sort":null,"scale":{"domain":["1年","2年","4年"],"range":[6,149],"paddingInner":0.07,"paddingOuter":0}},"y":{"datum":7,"axis":null,"scale":{"domain":[0,33],"range":[0,33]}},"y2":{"datum":27},"color":{"condition":{"test":"datum.on","value":"#e6eef5"},"value":"#f5f5f5"}}},
{"data":{"values":[{"b":"1年"},{"b":"2年"},{"b":"4年"}]},"mark":{"type":"text","fontSize":11,"color":"#888","baseline":"middle"},"encoding":{"x":{"field":"b","type":"nominal","sort":null,"scale":{"domain":["1年","2年","4年"],"range":[6,149],"paddingInner":0.07,"paddingOuter":0}},"y":{"datum":17,"axis":null,"scale":{"domain":[0,33],"range":[0,33]}},"text":{"field":"b"}}},
{"data":{"values":[{"t":"紐約輕原油(OIL) 周K"}]},"mark":{"type":"text","fontSize":13.5,"color":"#666","baseline":"middle"},"encoding":{"x":{"datum":371,"scale":{"domain":[0,740],"range":[0,740]}},"y":{"datum":18,"axis":null,"scale":{"domain":[0,33],"range":[0,33]}},"text":{"field":"t"}}},
{"data":{"values":[{"t":"© WantGoo玩股網"}]},"mark":{"type":"text","fontSize":12,"color":"#aaa","baseline":"middle","align":"left"},"encoding":{"x":{"datum":633,"scale":{"domain":[0,740],"range":[0,740]}},"y":{"datum":18,"axis":null,"scale":{"domain":[0,33],"range":[0,33]}},"text":{"field":"t"}}}
]},
{"width":740,"height":185,"layer":[
{"data":{"name":"wGrid"},"mark":{"type":"rule","color":"#f0f0f0"},"encoding":{"x":{"field":"i","type":"quantitative","scale":{"domain":[-3.4,115.3],"range":[2,700],"nice":false,"zero":false,"padding":0}}}},
{"data":{"name":"priceLines"},"mark":{"type":"rule","color":"#eee"},"encoding":{"y":{"field":"p","type":"quantitative","title":null,"scale":{"domain":[42,78.2],"nice":false,"zero":false},"axis":{"orient":"right","offset":-40,"values":[42,51,60,69],"labelOffset":-6,"labelPadding":3,"title":null}},"x":{"datum":-3.4},"x2":{"datum":115.3}}},
{"data":{"values":[{"e":"top"}]},"mark":{"type":"rule","color":"#e4e4e4","strokeWidth":1.5},"encoding":{"y":{"datum":78.2},"x":{"datum":-3.4},"x2":{"datum":115.3}}},
{"data":{"values":[{"e":"bottom"}]},"mark":{"type":"rule","color":"#ddd","strokeWidth":1.5},"encoding":{"y":{"datum":42},"x":{"datum":-3.4},"x2":{"datum":115.3}}},
{"data":{"values":[{"e":"left"}]},"mark":{"type":"rule","color":"#ddd","strokeWidth":2},"encoding":{"x":{"datum":-3.4}}},
{"data":{"values":[{"e":"right"}]},"mark":{"type":"rule","color":"#eee"},"encoding":{"x":{"datum":115.3}}},
{"data":{"name":"wM"},"mark":{"type":"line","strokeWidth":1,"interpolate":"monotone"},"encoding":{"x":{"field":"i","type":"quantitative"},"y":{"field":"v","type":"quantitative"},"color":{"field":"m","type":"nominal","scale":{"domain":["MA5","MA10","MA20","MA60"],"range":["#6bb0dc","#eab878","#dd7fa0","#90c090"]}}}},
{"data":{"name":"wC"},"mark":{"type":"rule","strokeWidth":1},"encoding":{"x":{"field":"i","type":"quantitative"},"y":{"field":"l","type":"quantitative"},"y2":{"field":"h"},"color":{"condition":{"test":"datum.c>=datum.o","value":"#c9202a"},"value":"#64a822"}}},
{"data":{"name":"wC"},"mark":{"type":"bar","orient":"vertical","size":4.6},"encoding":{"x":{"field":"i","type":"quantitative"},"y":{"field":"o","type":"quantitative"},"y2":{"field":"c"},"color":{"condition":{"test":"datum.c>=datum.o","value":"#c9202a"},"value":"#64a822"}}},
{"data":{"values":[{"m":48},{"m":91}]},"mark":{"type":"rule","color":"#dca0ae"},"encoding":{"x":{"field":"m","type":"quantitative"},"y":{"datum":43.26},"y2":{"datum":42}}},
{"data":{"values":[{"a":42,"b":54.4},{"a":85,"b":97.4}]},"mark":{"type":"rect","fill":"#fff6f7","stroke":"#e2a8b6"},"encoding":{"x":{"field":"a","type":"quantitative"},"x2":{"field":"b"},"y":{"datum":46.2},"y2":{"datum":43.26}}},
{"data":{"values":[{"t":"60周扣抵61.59","c":48.2},{"t":"20周扣抵71.51","c":91.2}]},"mark":{"type":"text","fontSize":11,"color":"#c96a80","baseline":"middle"},"encoding":{"x":{"field":"c","type":"quantitative"},"y":{"datum":44.73},"text":{"field":"t"}}}
]},
{"width":740,"height":20,"data":{"values":[{"cell":0,"label":"MV5","value":"2,473.136-","s":"a"},{"cell":1,"label":"MV20","value":"2,728.214-","s":"b"},{"cell":2,"label":"成交量 1,217↓","value":"","s":"c"},{"cell":3,"label":"成交量","value":"","s":"c"}]},"resolve":{"scale":{"x":"independent"}},"layer":[
{"mark":{"type":"text","align":"left","baseline":"middle","fontSize":10.5},"encoding":{"x":{"field":"cell","type":"quantitative","scale":{"domain":[0,1,2,3],"range":[14,112,210,638]}},"y":{"datum":10,"axis":null,"scale":{"domain":[0,20],"range":[0,20]}},"color":{"field":"s","type":"nominal","scale":{"domain":["a","b","c"],"range":["#8a8ae0","#e06060","#999"]}},"text":{"field":"label"}}},
{"transform":[{"filter":"datum.value!=''"}],"mark":{"type":"text","align":"left","baseline":"middle","fontSize":10.5,"color":"#666"},"encoding":{"x":{"field":"cell","type":"quantitative","scale":{"domain":[0,1],"range":[36.5,140.5]}},"y":{"datum":10,"axis":null},"text":{"field":"value"}}}
]},
{"width":740,"height":54,"layer":[
{"data":{"name":"wGrid"},"mark":{"type":"rule","color":"#f0f0f0"},"encoding":{"x":{"field":"i","type":"quantitative","scale":{"domain":[-3.4,115.3],"range":[2,700],"nice":false,"zero":false,"padding":0}}}},
{"data":{"values":[{"v":0},{"v":4000}]},"mark":{"type":"rule","color":"#eee"},"encoding":{"y":{"field":"v","type":"quantitative","scale":{"domain":[0,5890],"nice":false,"zero":false},"axis":{"orient":"right","offset":-40,"values":[0,4000],"labelOffset":-6,"labelPadding":3,"title":null,"labelExpr":"datum.value/1000+'k'"}},"x":{"datum":-3.4},"x2":{"datum":115.3}}},
{"data":{"values":[{"e":"left"}]},"mark":{"type":"rule","color":"#ddd","strokeWidth":2},"encoding":{"x":{"datum":-3.4}}},
{"data":{"values":[{"e":"right"}]},"mark":{"type":"rule","color":"#eee"},"encoding":{"x":{"datum":115.3}}},
{"data":{"name":"wV"},"mark":{"type":"bar","orient":"vertical","size":4.2},"encoding":{"x":{"field":"i","type":"quantitative"},"y":{"field":"v","type":"quantitative"},"y2":{"datum":0},"color":{"field":"d","type":"nominal","scale":{"domain":["r","g"],"range":["#e03a34","#7cb142"]}}}},
{"data":{"name":"wMV"},"mark":{"type":"line","strokeWidth":1,"interpolate":"monotone","color":"#8b9fe0"},"transform":[{"filter":"datum.m=='MV5'"}],"encoding":{"x":{"field":"i","type":"quantitative"},"y":{"field":"v","type":"quantitative"}}},
{"data":{"name":"wMV"},"mark":{"type":"line","strokeWidth":1,"interpolate":"monotone","color":"#e69a9a"},"transform":[{"filter":"datum.m=='MV20'"}],"encoding":{"x":{"field":"i","type":"quantitative"},"y":{"field":"v","type":"quantitative"}}},
{"data":{"values":[{"a":"arrow"}]},"mark":{"type":"rule","color":"#a32cb4","strokeWidth":4},"encoding":{"x":{"datum":109.5},"x2":{"datum":111.9},"y":{"datum":4470},"y2":{"datum":3380}}},
{"data":{"values":[{"a":"arrow"}]},"mark":{"type":"point","shape":"triangle-up","filled":true,"size":85,"angle":125,"color":"#a32cb4","opacity":1},"encoding":{"x":{"datum":112.2},"y":{"datum":3215}}}
]},
{"width":740,"height":16,"data":{"values":[{"cell":0,"label":"K9","value":"86.30-","s":"a"},{"cell":1,"label":"D9","value":"71.84-","s":"b"},{"cell":2,"label":"K值 > 80為紅點","value":"","s":"c"},{"cell":3,"label":"K值 < 20為綠點","value":"","s":"c"}]},"resolve":{"scale":{"x":"independent"}},"layer":[
{"mark":{"type":"text","align":"left","baseline":"middle","fontSize":10.5},"encoding":{"x":{"field":"cell","type":"quantitative","scale":{"domain":[0,1,2,3],"range":[14,112,211,310]}},"y":{"datum":11,"axis":null,"scale":{"domain":[0,16],"range":[0,16]}},"color":{"field":"s","type":"nominal","scale":{"domain":["a","b","c"],"range":["#8a8ae0","#e06060","#999"]}},"text":{"field":"label"}}},
{"transform":[{"filter":"datum.value!=''"}],"mark":{"type":"text","align":"left","baseline":"middle","fontSize":10.5,"color":"#666"},"encoding":{"x":{"field":"cell","type":"quantitative","scale":{"domain":[0,1],"range":[28,127]}},"y":{"datum":11,"axis":null},"text":{"field":"value"}}}
]},
{"width":740,"height":52,"layer":[
{"data":{"name":"wGrid"},"mark":{"type":"rule","color":"#f0f0f0"},"encoding":{"x":{"field":"i","type":"quantitative","scale":{"domain":[-3.4,115.3],"range":[2,700],"nice":false,"zero":false,"padding":0}}}},
{"data":{"values":[{"k":0}]},"mark":{"type":"rule","color":"#ddd"},"encoding":{"y":{"field":"k","type":"quantitative","scale":{"domain":[-2,100],"nice":false,"zero":false},"axis":{"orient":"right","offset":-40,"values":[0],"labelOffset":-6,"labelPadding":3,"title":null}},"x":{"datum":-3.4},"x2":{"datum":115.3}}},
{"data":{"values":[{"e":"top"}]},"mark":{"type":"rule","color":"#e4e4e4"},"encoding":{"y":{"datum":100},"x":{"datum":-3.4},"x2":{"datum":115.3}}},
{"data":{"values":[{"e":"left"}]},"mark":{"type":"rule","color":"#ddd","strokeWidth":2},"encoding":{"x":{"datum":-3.4}}},
{"data":{"values":[{"e":"right"}]},"mark":{"type":"rule","color":"#eee"},"encoding":{"x":{"datum":115.3}}},
{"data":{"name":"wD"},"mark":{"type":"line","strokeWidth":1,"color":"#e69a9a"},"encoding":{"x":{"field":"i","type":"quantitative"},"y":{"field":"k","type":"quantitative"}}},
{"data":{"name":"wK"},"mark":{"type":"line","strokeWidth":1,"color":"#8b9fe0"},"encoding":{"x":{"field":"i","type":"quantitative"},"y":{"field":"k","type":"quantitative"}}},
{"data":{"name":"wK"},"transform":[{"filter":"datum.k>=80"}],"mark":{"type":"circle","size":28,"color":"#e03438","opacity":1},"encoding":{"x":{"field":"i","type":"quantitative"},"y":{"field":"k","type":"quantitative"}}},
{"data":{"name":"wK"},"transform":[{"filter":"datum.k<20"}],"mark":{"type":"circle","size":28,"color":"#86ab3a","opacity":1},"encoding":{"x":{"field":"i","type":"quantitative"},"y":{"field":"k","type":"quantitative"}}},
{"data":{"values":[{"t":"KD"}]},"mark":{"type":"text","fontSize":12,"color":"#777","baseline":"middle"},"encoding":{"x":{"datum":107.7},"y":{"datum":81},"text":{"field":"t"}}},
{"data":{"values":[{"t":"tab"}]},"mark":{"type":"rect","color":"#3b78d4","cornerRadiusTopLeft":6},"encoding":{"x":{"datum":116.7},"x2":{"datum":122.1},"y":{"datum":9.8},"y2":{"datum":-11.8}}}
]},
{"width":740,"height":64,"data":{"name":"dHead"},"resolve":{"scale":{"x":"independent","y":"independent","color":"independent","size":"independent"}},"layer":[
{"data":{"values":[{"box":"quote"}]},"mark":{"type":"rect","fill":"#f8f8f8"},"encoding":{"x":{"datum":0,"scale":{"domain":[0,740],"range":[0,740]}},"x2":{"datum":140},"y":{"datum":5,"axis":null,"scale":{"domain":[0,64],"range":[0,64]}},"y2":{"datum":64}}},
{"data":{"values":[{"box":"top"}]},"mark":{"type":"rule","color":"#eee"},"encoding":{"y":{"datum":5,"axis":null,"scale":{"domain":[0,64],"range":[0,64]}},"x":{"datum":142,"scale":{"domain":[0,740],"range":[0,740]}},"x2":{"datum":740}}},
{"data":{"values":[{"box":"bottom"}]},"mark":{"type":"rule","color":"#e4e4e4"},"encoding":{"y":{"datum":64,"axis":null,"scale":{"domain":[0,64],"range":[0,64]}}}},
{"data":{"values":[{"box":"split"}]},"mark":{"type":"rule","color":"#bbb","strokeWidth":2},"encoding":{"x":{"datum":141.5,"scale":{"domain":[0,740],"range":[0,740]}},"y":{"datum":5,"axis":null,"scale":{"domain":[0,64],"range":[0,64]}},"y2":{"datum":64}}},
{"data":{"values":[{"box":"row"}]},"mark":{"type":"rule","color":"#eee"},"encoding":{"x":{"datum":143,"scale":{"domain":[0,740],"range":[0,740]}},"x2":{"datum":740},"y":{"datum":34,"axis":null,"scale":{"domain":[0,64],"range":[0,64]}}}},
{"data":{"values":[{"n":0,"t":"57.07"},{"n":1,"t":"0.23▲"},{"n":2,"t":"0.40%"}]},"mark":{"type":"text","align":"left","baseline":"middle","fontWeight":"bold","color":"#c4161c"},"encoding":{"x":{"field":"n","type":"quantitative","scale":{"domain":[0,1,2],"range":[14,14,64]}},"y":{"field":"n","type":"quantitative","axis":null,"scale":{"domain":[0,1,2],"range":[27,46,46]}},"size":{"field":"n","type":"ordinal","scale":{"domain":[0,1,2],"range":[19.5,12,12.5]}},"text":{"field":"t"}}},
{"transform":[{"filter":"datum.label!=''"}],"mark":{"type":"text","align":"left","baseline":"middle","fontSize":10.5},"encoding":{"x":{"field":"cell","type":"quantitative","scale":{"domain":[0,1,2,3,4,5,6,7,8,9,10,11],"range":[147,244,343,442,541,640,145,245,343,442,541,640]}},"y":{"field":"row","type":"quantitative","axis":null,"scale":{"domain":[0,1],"range":[19,48]}},"color":{"field":"s","type":"nominal","scale":{"domain":["o","5","10","20","60","120","240"],"range":["#aaa","#8cc0e0","#eec08a","#d8a0c0","#a0c8a0","#a8a0d8","#e0a080"]}},"text":{"field":"label"}}},
{"mark":{"type":"text","align":"left","baseline":"middle","fontSize":12,"fontWeight":"bold"},"encoding":{"x":{"field":"cell","type":"quantitative","scale":{"domain":[0,1,2,3,4,5,6,7,8,9,10,11],"range":[147,255,356,455,554,652,164,269,365,467,572,671]}},"y":{"field":"row","type":"quantitative","axis":null,"scale":{"domain":[0,1],"range":[19,48]}},"color":{"field":"s","type":"nominal","scale":{"domain":["o","5","10","20","60","120","240"],"range":["#666","#3a8fc8","#e8a04c","#d8487f","#4ca84c","#8060c0","#e8702c"]}},"text":{"field":"value"}}}
]},
{"width":740,"height":33,"resolve":{"scale":{"x":"independent","y":"independent"}},"layer":[
{"data":{"values":[{"b":"3個月"},{"b":"6個月"},{"b":"12個月"}]},"mark":{"type":"rect","color":"#f5f5f5"},"encoding":{"x":{"field":"b","type":"nominal","sort":null,"scale":{"domain":["3個月","6個月","12個月"],"range":[6,148],"paddingInner":0.07,"paddingOuter":0}},"y":{"datum":8,"axis":null,"scale":{"domain":[0,33],"range":[0,33]}},"y2":{"datum":26}}},
{"data":{"values":[{"b":"3個月"},{"b":"6個月"},{"b":"12個月"}]},"mark":{"type":"text","fontSize":11,"color":"#888","baseline":"middle"},"encoding":{"x":{"field":"b","type":"nominal","sort":null,"scale":{"domain":["3個月","6個月","12個月"],"range":[6,148],"paddingInner":0.07,"paddingOuter":0}},"y":{"datum":17,"axis":null,"scale":{"domain":[0,33],"range":[0,33]}},"text":{"field":"b"}}},
{"data":{"values":[{"t":"紐約輕原油(OIL) 日K"}]},"mark":{"type":"text","fontSize":13.5,"color":"#666","baseline":"middle"},"encoding":{"x":{"datum":370,"scale":{"domain":[0,740],"range":[0,740]}},"y":{"datum":18,"axis":null,"scale":{"domain":[0,33],"range":[0,33]}},"text":{"field":"t"}}},
{"data":{"values":[{"t":"© WantGoo玩股網"}]},"mark":{"type":"text","fontSize":12,"color":"#aaa","baseline":"middle","align":"left"},"encoding":{"x":{"datum":632,"scale":{"domain":[0,740],"range":[0,740]}},"y":{"datum":18,"axis":null,"scale":{"domain":[0,33],"range":[0,33]}},"text":{"field":"t"}}}
]},
{"width":740,"height":185,"layer":[
{"data":{"name":"dGrid"},"mark":{"type":"rule","color":"#f0f0f0"},"encoding":{"x":{"field":"i","type":"quantitative","scale":{"domain":[-0.445,132.5],"range":[2,698],"nice":false,"zero":false,"padding":0}}}},
{"data":{"name":"priceLines"},"mark":{"type":"rule","color":"#eee"},"encoding":{"y":{"field":"p","type":"quantitative","title":null,"scale":{"domain":[42,78.2],"nice":false,"zero":false},"axis":{"orient":"right","offset":-42,"values":[42,51,60,69],"labelOffset":-6,"labelPadding":3,"title":null}},"x":{"datum":-0.445},"x2":{"datum":132.5}}},
{"data":{"values":[{"e":"top"}]},"mark":{"type":"rule","color":"#e4e4e4","strokeWidth":1.5},"encoding":{"y":{"datum":78.2},"x":{"datum":-0.445},"x2":{"datum":132.5}}},
{"data":{"values":[{"e":"bottom"}]},"mark":{"type":"rule","color":"#ddd","strokeWidth":1.5},"encoding":{"y":{"datum":42},"x":{"datum":-0.445},"x2":{"datum":132.5}}},
{"data":{"values":[{"e":"right"}]},"mark":{"type":"rule","color":"#eee"},"encoding":{"x":{"datum":132.5}}},
{"data":{"name":"dM"},"mark":{"type":"line","strokeWidth":1,"interpolate":"monotone"},"encoding":{"x":{"field":"i","type":"quantitative"},"y":{"field":"v","type":"quantitative"},"color":{"field":"m","type":"nominal","scale":{"domain":["MA20","MA60","MA120","MA240"],"range":["#cf86a8","#90c090","#9c94c8","#e0a078"]}}}},
{"data":{"values":[{"level":55}]},"mark":{"type":"rule","color":"#6fc3e8","strokeWidth":3},"encoding":{"x":{"datum":55.9},"x2":{"datum":136.3},"y":{"field":"level","type":"quantitative"}}},
{"data":{"name":"dC"},"mark":{"type":"rule","strokeWidth":1},"encoding":{"x":{"field":"i","type":"quantitative"},"y":{"field":"l","type":"quantitative"},"y2":{"field":"h"},"color":{"condition":{"test":"datum.c>=datum.o","value":"#c9202a"},"value":"#64a822"}}},
{"data":{"name":"dC"},"mark":{"type":"bar","orient":"vertical","size":4.2},"encoding":{"x":{"field":"i","type":"quantitative"},"y":{"field":"o","type":"quantitative"},"y2":{"field":"c"},"color":{"condition":{"test":"datum.c>=datum.o","value":"#c9202a"},"value":"#64a822"}}},
{"data":{"values":[{"m":70.8},{"m":112.8}]},"mark":{"type":"rule","color":"#dca0ae"},"encoding":{"x":{"field":"m","type":"quantitative"},"y":{"datum":43.43},"y2":{"datum":42}}},
{"data":{"values":[{"a":64.1,"b":77.9},{"a":106.1,"b":119.9}]},"mark":{"type":"rect","fill":"#fff6f7","stroke":"#e2a8b6"},"encoding":{"x":{"field":"a","type":"quantitative"},"x2":{"field":"b"},"y":{"datum":46.36},"y2":{"datum":43.43}}},
{"data":{"values":[{"t":"季線扣抵51.26","c":71},{"t":"月線扣抵52.09","c":113}]},"mark":{"type":"text","fontSize":11,"color":"#c96a80","baseline":"middle"},"encoding":{"x":{"field":"c","type":"quantitative"},"y":{"datum":44.9},"text":{"field":"t"}}}
]},
{"width":740,"height":20,"data":{"values":[{"cell":0,"label":"MV5","value":"243.569-","s":"a"},{"cell":1,"label":"MV20","value":"517.677-","s":"b"},{"cell":2,"label":"成交量 494↓","value":"","s":"c"},{"cell":3,"label":"成交量","value":"","s":"c"}]},"resolve":{"scale":{"x":"independent"}},"layer":[
{"mark":{"type":"text","align":"left","baseline":"middle","fontSize":10.5},"encoding":{"x":{"field":"cell","type":"quantitative","scale":{"domain":[0,1,2,3],"range":[12,111,210,645]}},"y":{"datum":10,"axis":null,"scale":{"domain":[0,20],"range":[0,20]}},"color":{"field":"s","type":"nominal","scale":{"domain":["a","b","c"],"range":["#8a8ae0","#e06060","#999"]}},"text":{"field":"label"}}},
{"transform":[{"filter":"datum.value!=''"}],"mark":{"type":"text","align":"left","baseline":"middle","fontSize":10.5,"color":"#666"},"encoding":{"x":{"field":"cell","type":"quantitative","scale":{"domain":[0,1],"range":[35,140]}},"y":{"datum":10,"axis":null},"text":{"field":"value"}}}
]},
{"width":740,"height":54,"layer":[
{"data":{"name":"dGrid"},"mark":{"type":"rule","color":"#f0f0f0"},"encoding":{"x":{"field":"i","type":"quantitative","scale":{"domain":[-0.445,132.5],"range":[2,698],"nice":false,"zero":false,"padding":0}}}},
{"data":{"values":[{"v":0},{"v":1000}]},"mark":{"type":"rule","color":"#eee"},"encoding":{"y":{"field":"v","type":"quantitative","scale":{"domain":[0,1486],"nice":false,"zero":false},"axis":{"orient":"right","offset":-42,"values":[0,1000],"labelOffset":-6,"labelPadding":3,"title":null,"format":"d"}},"x":{"datum":-0.445},"x2":{"datum":132.5}}},
{"data":{"values":[{"e":"right"}]},"mark":{"type":"rule","color":"#eee"},"encoding":{"x":{"datum":132.5}}},
{"data":{"name":"dV"},"mark":{"type":"bar","orient":"vertical","size":3.8},"encoding":{"x":{"field":"i","type":"quantitative"},"y":{"field":"v","type":"quantitative"},"y2":{"datum":0},"color":{"field":"d","type":"nominal","scale":{"domain":["r","g"],"range":["#e03a34","#7cb142"]}}}},
{"data":{"name":"dMV"},"mark":{"type":"line","strokeWidth":1,"interpolate":"monotone","color":"#8b9fe0"},"transform":[{"filter":"datum.m=='MV5'"}],"encoding":{"x":{"field":"i","type":"quantitative"},"y":{"field":"v","type":"quantitative"}}},
{"data":{"name":"dMV"},"mark":{"type":"line","strokeWidth":1,"interpolate":"monotone","color":"#e69a9a"},"transform":[{"filter":"datum.m=='MV20'"}],"encoding":{"x":{"field":"i","type":"quantitative"},"y":{"field":"v","type":"quantitative"}}},
{"data":{"values":[{"a":"arrow"}]},"mark":{"type":"rule","color":"#b52fc0","strokeWidth":5},"encoding":{"x":{"datum":130.4},"x2":{"datum":132.3},"y":{"datum":743},"y2":{"datum":640}}},
{"data":{"values":[{"a":"arrow"}]},"mark":{"type":"point","shape":"triangle-up","filled":true,"size":85,"angle":110,"color":"#b52fc0","opacity":1},"encoding":{"x":{"datum":133},"y":{"datum":620}}}
]},
{"width":740,"height":16,"data":{"values":[{"cell":0,"label":"K9","value":"86.53-","s":"a"},{"cell":1,"label":"D9","value":"81.66-","s":"b"},{"cell":2,"label":"K值 > 80為紅點","value":"","s":"c"},{"cell":3,"label":"K值 < 20為綠點","value":"","s":"c"}]},"resolve":{"scale":{"x":"independent"}},"layer":[
{"mark":{"type":"text","align":"left","baseline":"middle","fontSize":10.5},"encoding":{"x":{"field":"cell","type":"quantitative","scale":{"domain":[0,1,2,3],"range":[12,111,210,309]}},"y":{"datum":11,"axis":null,"scale":{"domain":[0,16],"range":[0,16]}},"color":{"field":"s","type":"nominal","scale":{"domain":["a","b","c"],"range":["#8a8ae0","#e06060","#999"]}},"text":{"field":"label"}}},
{"transform":[{"filter":"datum.value!=''"}],"mark":{"type":"text","align":"left","baseline":"middle","fontSize":10.5,"color":"#666"},"encoding":{"x":{"field":"cell","type":"quantitative","scale":{"domain":[0,1],"range":[26,125]}},"y":{"datum":11,"axis":null},"text":{"field":"value"}}}
]},
{"width":740,"height":52,"layer":[
{"data":{"name":"dGrid"},"mark":{"type":"rule","color":"#f0f0f0"},"encoding":{"x":{"field":"i","type":"quantitative","scale":{"domain":[-0.445,132.5],"range":[2,698],"nice":false,"zero":false,"padding":0}}}},
{"data":{"values":[{"k":0}]},"mark":{"type":"rule","color":"#ddd"},"encoding":{"y":{"field":"k","type":"quantitative","scale":{"domain":[-2,100],"nice":false,"zero":false},"axis":{"orient":"right","offset":-42,"values":[0],"labelOffset":-6,"labelPadding":3,"title":null}},"x":{"datum":-0.445},"x2":{"datum":132.5}}},
{"data":{"values":[{"e":"top"}]},"mark":{"type":"rule","color":"#e4e4e4"},"encoding":{"y":{"datum":100},"x":{"datum":-0.445},"x2":{"datum":132.5}}},
{"data":{"values":[{"e":"right"}]},"mark":{"type":"rule","color":"#eee"},"encoding":{"x":{"datum":132.5}}},
{"data":{"name":"dD"},"mark":{"type":"line","strokeWidth":1,"color":"#e69a9a"},"encoding":{"x":{"field":"i","type":"quantitative"},"y":{"field":"k","type":"quantitative"}}},
{"data":{"name":"dK"},"mark":{"type":"line","strokeWidth":1,"color":"#8b9fe0"},"encoding":{"x":{"field":"i","type":"quantitative"},"y":{"field":"k","type":"quantitative"}}},
{"data":{"name":"dK"},"transform":[{"filter":"datum.k>=80"}],"mark":{"type":"circle","size":28,"color":"#e03438","opacity":1},"encoding":{"x":{"field":"i","type":"quantitative"},"y":{"field":"k","type":"quantitative"}}},
{"data":{"name":"dK"},"transform":[{"filter":"datum.k<20"}],"mark":{"type":"circle","size":28,"color":"#86ab3a","opacity":1},"encoding":{"x":{"field":"i","type":"quantitative"},"y":{"field":"k","type":"quantitative"}}},
{"data":{"values":[{"t":"KD"}]},"mark":{"type":"text","fontSize":12,"color":"#777","baseline":"middle"},"encoding":{"x":{"datum":124.3},"y":{"datum":81},"text":{"field":"t"}}},
{"data":{"values":[{"t":"tab"}]},"mark":{"type":"rect","color":"#3b78d4","cornerRadiusTopLeft":6},"encoding":{"x":{"datum":134.2},"x2":{"datum":140.5},"y":{"datum":9.8},"y2":{"datum":-2}}}
]}
]}
